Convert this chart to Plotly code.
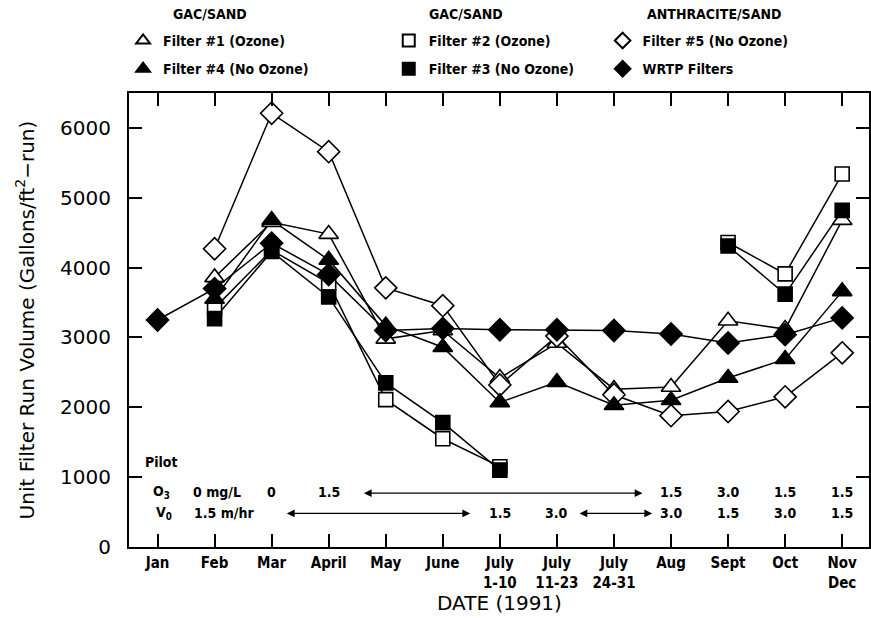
import plotly.graph_objects as go

# ---------------- data ----------------
categories = ["Jan", "Feb", "Mar", "April", "May", "June", "July<br>1-10", "July<br>11-23",
              "July<br>24-31", "Aug", "Sept", "Oct", "Nov<br>Dec"]

filter1_ozone = [None, 3860, 4650, 4480, 2980, 3100, 2420, 2920, 2260, 2290, 3240, 3120, 4680]
filter4_no_ozone = [None, 3550, 4680, 4110, 3170, 2860, 2070, 2360, 2030, 2100, 2420, 2690, 3660]
filter2_ozone = [None, 3420, 4250, 3780, 2110, 1550, 1150, None, None, None, 4360, 3910, 5340]
filter3_no_ozone = [None, 3270, 4230, 3580, 2350, 1780, 1100, None, None, None, 4310, 3620, 4820]
filter5_no_ozone = [None, 4270, 6210, 5660, 3710, 3455, 2320, 3020, 2180, 1880, 1940, 2150, 2780]
wrtp_filters = [3250, 3700, 4350, 3900, 3100, 3130, 3110, 3110, 3100, 3050, 2920, 3040, 3280]

y_ticks = [0, 1000, 2000, 3000, 4000, 5000, 6000]

group_titles = ["GAC/SAND", "GAC/SAND", "ANTHRACITE/SAND"]

# pilot conditions shown along the bottom
o3_values = [("0", 2), ("1.5", 3), ("1.5", 9), ("3.0", 10), ("1.5", 11), ("1.5", 12)]
v0_values = [("1.5", 6), ("3.0", 7), ("3.0", 9), ("1.5", 10), ("3.0", 11), ("1.5", 12)]

xi = list(range(len(categories)))

COND = "DejaVu Sans Condensed, DejaVu Sans, sans-serif"
GEO = "DejaVu Sans, sans-serif"

series = [
    # name, values, symbol, fill, legend, size
    ("Filter #1 (Ozone)", filter1_ozone, "triangle-up", "white", "legend", 17),
    ("Filter #2 (Ozone)", filter2_ozone, "square", "white", "legend2", 14),
    ("Filter #5 (No Ozone)", filter5_no_ozone, "diamond", "white", "legend3", 17),
    ("Filter #3 (No Ozone)", filter3_no_ozone, "square", "black", "legend2", 14),
    ("WRTP Filters", wrtp_filters, "diamond", "black", "legend3", 17),
    ("Filter #4 (No Ozone)", filter4_no_ozone, "triangle-up", "black", "legend", 17),
]

fig = go.Figure()

# lines first
for name, vals, sym, fill, leg, sz in series:
    fig.add_trace(go.Scatter(x=xi, y=vals, mode="lines", line=dict(color="black", width=1.5),
                             showlegend=False, hoverinfo="skip", connectgaps=False))

# markers on top
for name, vals, sym, fill, leg, sz in series:
    fig.add_trace(go.Scatter(x=xi, y=vals, mode="markers", name="<b>" + name + "</b>", legend=leg,
                             legendgroup=name,
                             marker=dict(symbol=sym, size=sz, color=fill,
                                         line=dict(color="black", width=1.6))))

ann = []
AF = dict(family=COND, size=14, color="black")
# pilot annotations
ann.append(dict(x=-0.25, y=1216, xref="x", yref="y", text="<b>Pilot</b>", showarrow=False,
                xanchor="left", yanchor="middle", font=AF))
ann.append(dict(x=-0.12, y=787, xref="x", yref="y", text="<b>O<sub>3</sub></b>", showarrow=False,
                xanchor="left", yanchor="middle", font=AF))
ann.append(dict(x=0.58, y=787, xref="x", yref="y", text="<b>0 mg/L</b>", showarrow=False,
                xanchor="left", yanchor="middle", font=AF))
ann.append(dict(x=-0.07, y=487, xref="x", yref="y", text="<b>V<sub>0</sub></b>", showarrow=False,
                xanchor="left", yanchor="middle", font=AF))
ann.append(dict(x=0.6, y=487, xref="x", yref="y", text="<b>1.5 m/hr</b>", showarrow=False,
                xanchor="left", yanchor="middle", font=AF))
for txt, pos in o3_values:
    ann.append(dict(x=pos, y=787, xref="x", yref="y", text="<b>" + txt + "</b>", showarrow=False,
                    xanchor="center", yanchor="middle", font=AF))
for txt, pos in v0_values:
    ann.append(dict(x=pos, y=487, xref="x", yref="y", text="<b>" + txt + "</b>", showarrow=False,
                    xanchor="center", yanchor="middle", font=AF))
# arrows
for x0, x1, yy in [(3.59, 8.5, 770), (2.24, 5.48, 480), (7.37, 8.67, 480)]:
    ann.append(dict(x=x1, y=yy, ax=x0, ay=yy, xref="x", yref="y", axref="x", ayref="y",
                    text="", showarrow=True, arrowside="end+start", arrowhead=2,
                    arrowsize=1.2, arrowwidth=1.3, arrowcolor="black", standoff=0, startstandoff=0))

# legend group headers
for title, xc in zip(group_titles, [0.11, 0.455, 0.79]):
    ann.append(dict(x=xc, y=1.174, xref="paper", yref="paper", showarrow=False,
                    xanchor="center", yanchor="middle",
                    text="<b>" + title + "</b>", font=dict(family=COND, size=14, color="black")))

# axis titles
ann.append(dict(x=-0.14, y=0.5, xref="paper", yref="paper", textangle=-90, showarrow=False,
                xanchor="center", yanchor="middle",
                text="Unit Filter Run Volume (Gallons/ft<sup>2</sup>\u2212run)",
                font=dict(family=GEO, size=20, color="black")))
ann.append(dict(x=0.5, y=-0.123, xref="paper", yref="paper", showarrow=False,
                xanchor="center", yanchor="middle",
                text="DATE (1991)", font=dict(family=GEO, size=20, color="black")))

legend_common = dict(orientation="v", yanchor="top", y=1.15, xanchor="left",
                     bgcolor="rgba(0,0,0,0)", traceorder="grouped", tracegroupgap=7,
                     font=dict(family=COND, size=14, color="black"), itemsizing="constant")

fig.update_layout(
    width=871, height=618, autosize=False,
    margin=dict(l=129, r=2, t=93, b=71, autoexpand=False),
    plot_bgcolor="white", paper_bgcolor="white",
    showlegend=True,
    annotations=ann,
    legend=dict(x=-0.008, **legend_common),
    legend2=dict(x=0.351, **legend_common),
    legend3=dict(x=0.64, **legend_common),
    xaxis=dict(range=[-0.5, 12.47], tickvals=xi,
               ticktext=["<b>" + c.replace("<br>", "</b><br><b>") + "</b>" for c in categories],
               ticks="inside", ticklen=13, tickwidth=1.5, tickcolor="black",
               showline=True, linewidth=2, linecolor="black", mirror="ticks",
               showgrid=False, zeroline=False, ticklabelstandoff=1, automargin=False,
               tickfont=dict(family=COND, size=15, color="black")),
    yaxis=dict(range=[0, 6500], tickvals=y_ticks, ticks="inside", ticklen=13, tickwidth=1.5,
               tickcolor="black", showline=True, linewidth=2, linecolor="black", mirror="ticks",
               showgrid=False, zeroline=False, ticklabelstandoff=12, automargin=False,
               tickfont=dict(family=GEO, size=20, color="black")),
)

fig.write_html("out.html", config={"displayModeBar": False},
               post_script="document.body.style.margin='0px';")
